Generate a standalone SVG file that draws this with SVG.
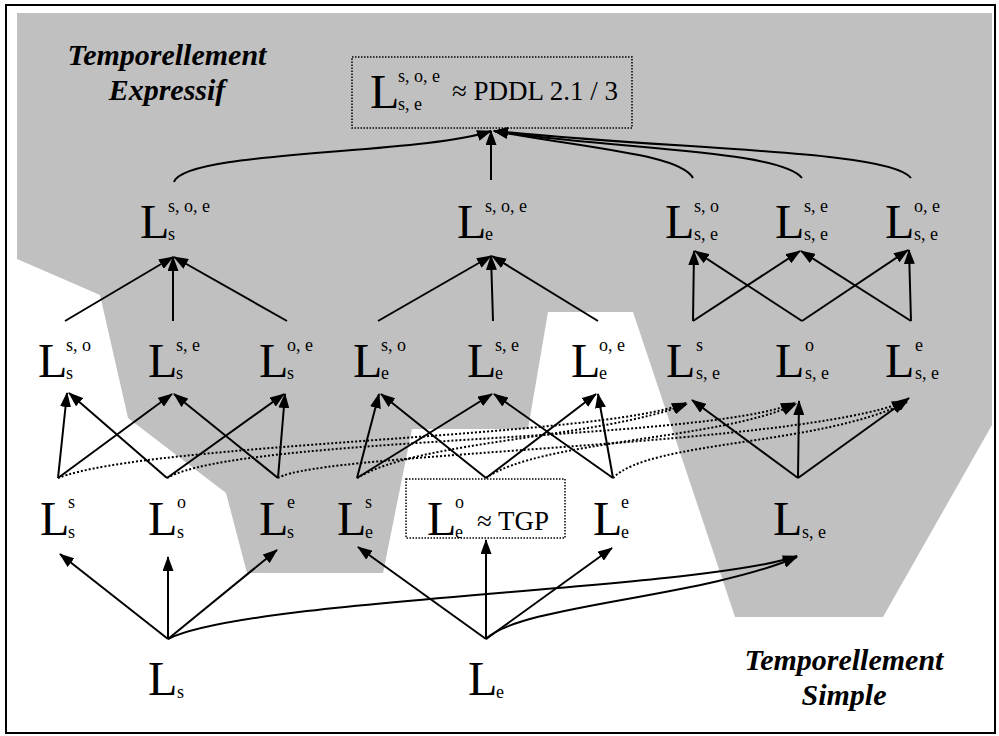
<svg xmlns="http://www.w3.org/2000/svg" width="999" height="736" viewBox="0 0 999 736">
<defs>
<marker id="ah" markerUnits="userSpaceOnUse" markerWidth="15" markerHeight="11" refX="14" refY="5.5" orient="auto">
<path d="M0,0 L15,5.5 L0,11 Z" fill="#000"/>
</marker>
<style>
text{font-family:"Liberation Serif",Tinos,"Times New Roman",Times,"Noto Serif","DejaVu Serif",FreeSerif,serif;fill:#000}
.L{font-size:48px}
.s{font-size:18px}
.t{font-size:27px}
.h{font-size:30px;font-weight:bold;font-style:italic;text-anchor:middle}
.c{fill:none;stroke:#000;stroke-width:2;marker-end:url(#ah)}
.d{fill:none;stroke:#000;stroke-width:2;stroke-dasharray:2,2;marker-end:url(#ah)}
.box{fill:none;stroke:#000;stroke-width:1.5;stroke-dasharray:1.5,1.5}
</style>
</defs>
<rect x="6" y="5" width="989" height="728" fill="#fff" stroke="#000" stroke-width="2"/>
<path id="zone" d="M17,13 L992,13 L992,425 L883,617 L735,617 L633,312 L548,312 L528,429 L412,429 L383,573 L247,573 L226,493 L128,418 L100,295 L17,259 Z" fill="#c0c0c0"/>
<text class="h" x="167" y="65">Temporellement</text>
<text class="h" x="167" y="100">Expressif</text>
<text class="h" x="844" y="670">Temporellement</text>
<text class="h" x="844" y="705">Simple</text>
<g id="connectors">
<path class="c" d="M174,182 C185,150 420,155 491,131"/>
<path class="c" d="M491,180 L491,131"/>
<path class="c" d="M693,178 C680,155 600,150 494,131"/>
<path class="c" d="M802,178 C780,150 620,150 494,131"/>
<path class="c" d="M911,178 C890,150 680,150 494,131"/>
<path class="c" d="M65,321 L173,257"/>
<path class="c" d="M173,321 L173,257"/>
<path class="c" d="M287,321 L174,257"/>
<path class="c" d="M378,321 L491,256"/>
<path class="c" d="M493,321 L491,256"/>
<path class="c" d="M598,321 L492,256"/>
<path class="c" d="M693,321 L694,251"/>
<path class="c" d="M693,321 L800,251"/>
<path class="c" d="M802,321 L695,251"/>
<path class="c" d="M802,321 L908,250"/>
<path class="c" d="M911,321 L801,251"/>
<path class="c" d="M911,321 L909,250"/>
<path class="c" d="M58,478 L67,393"/>
<path class="c" d="M58,478 L172,394"/>
<path class="c" d="M167,478 L69,393"/>
<path class="c" d="M167,478 L284,394"/>
<path class="c" d="M278,478 L174,394"/>
<path class="c" d="M278,478 L285,394"/>
<path class="c" d="M357,478 L379,394"/>
<path class="c" d="M357,478 L492,394"/>
<path class="c" d="M486,478 L381,394"/>
<path class="c" d="M486,478 L596,394"/>
<path class="c" d="M613,478 L494,394"/>
<path class="c" d="M613,478 L598,394"/>
<path class="c" d="M798,478 L692,400"/>
<path class="c" d="M798,478 L799,401"/>
<path class="c" d="M798,478 L909,398"/>
<path class="d" d="M58,478 C150,442 600,438 686,403"/>
<path class="d" d="M167,478 C240,436 700,442 795,403"/>
<path class="d" d="M278,478 C320,452 800,446 906,401"/>
<path class="d" d="M357,478 C420,440 600,438 687,404"/>
<path class="d" d="M486,478 C540,440 720,440 796,404"/>
<path class="d" d="M613,478 C650,440 820,446 907,402"/>
<path class="c" d="M168,639 L60,554"/>
<path class="c" d="M168,639 L168,557"/>
<path class="c" d="M168,639 L277,550"/>
<path class="c" d="M486,639 L358,547"/>
<path class="c" d="M486,639 L486,540"/>
<path class="c" d="M486,639 L612,548"/>
<path class="c" d="M168,639 C250,598 700,590 797,556"/>
<path class="c" d="M486,639 C520,605 700,598 797,557"/>
</g>
<g id="n-top">
<rect class="box" x="352" y="57" width="280" height="71"/>
<text class="L" x="370" y="108">L</text><text class="s" x="398" y="82">s, o, e</text><text class="s" x="398" y="110">s, e</text>
<text class="t" x="452" y="100">≈ PDDL 2.1 / 3</text>
</g>
<g id="n-s-soe"><text class="L" x="140" y="238">L</text><text class="s" x="168" y="212">s, o, e</text><text class="s" x="168" y="240">s</text></g>
<g id="n-e-soe"><text class="L" x="457" y="238">L</text><text class="s" x="485" y="212">s, o, e</text><text class="s" x="485" y="240">e</text></g>
<g id="n-se-so"><text class="L" x="665" y="238">L</text><text class="s" x="694" y="212">s, o</text><text class="s" x="694" y="240">s, e</text></g>
<g id="n-se-se"><text class="L" x="775" y="238">L</text><text class="s" x="804" y="212">s, e</text><text class="s" x="804" y="240">s, e</text></g>
<g id="n-se-oe"><text class="L" x="885" y="238">L</text><text class="s" x="914" y="212">o, e</text><text class="s" x="914" y="240">s, e</text></g>
<g id="n-s-so"><text class="L" x="38" y="377">L</text><text class="s" x="66" y="351">s, o</text><text class="s" x="66" y="379">s</text></g>
<g id="n-s-se"><text class="L" x="148" y="377">L</text><text class="s" x="176" y="351">s, e</text><text class="s" x="176" y="379">s</text></g>
<g id="n-s-oe"><text class="L" x="259" y="377">L</text><text class="s" x="287" y="351">o, e</text><text class="s" x="287" y="379">s</text></g>
<g id="n-e-so"><text class="L" x="353" y="377">L</text><text class="s" x="381" y="351">s, o</text><text class="s" x="381" y="379">e</text></g>
<g id="n-e-se"><text class="L" x="467" y="377">L</text><text class="s" x="495" y="351">s, e</text><text class="s" x="495" y="379">e</text></g>
<g id="n-e-oe"><text class="L" x="571" y="377">L</text><text class="s" x="599" y="351">o, e</text><text class="s" x="599" y="379">e</text></g>
<g id="n-se-s"><text class="L" x="666" y="377">L</text><text class="s" x="696" y="351">s</text><text class="s" x="696" y="379">s, e</text></g>
<g id="n-se-o"><text class="L" x="775" y="377">L</text><text class="s" x="805" y="351">o</text><text class="s" x="805" y="379">s, e</text></g>
<g id="n-se-e"><text class="L" x="885" y="377">L</text><text class="s" x="915" y="351">e</text><text class="s" x="915" y="379">s, e</text></g>
<g id="n-s-s"><text class="L" x="40" y="535">L</text><text class="s" x="68" y="508">s</text><text class="s" x="68" y="538">s</text></g>
<g id="n-s-o"><text class="L" x="148" y="535">L</text><text class="s" x="177" y="508">o</text><text class="s" x="177" y="538">s</text></g>
<g id="n-s-e"><text class="L" x="259" y="535">L</text><text class="s" x="287" y="508">e</text><text class="s" x="287" y="538">s</text></g>
<g id="n-e-s"><text class="L" x="337" y="535">L</text><text class="s" x="365" y="508">s</text><text class="s" x="365" y="538">e</text></g>
<g id="n-e-o">
<rect class="box" x="406" y="479" width="159" height="59"/>
<text class="L" x="427" y="535">L</text><text class="s" x="455" y="508">o</text><text class="s" x="455" y="538">e</text>
<text class="t" x="477" y="530" font-size="26">≈ TGP</text>
</g>
<g id="n-e-e"><text class="L" x="593" y="535">L</text><text class="s" x="621" y="508">e</text><text class="s" x="621" y="538">e</text></g>
<g id="n-se"><text class="L" x="773" y="535">L</text><text class="s" x="802" y="538">s, e</text></g>
<g id="n-s"><text class="L" x="148" y="695">L</text><text class="s" x="177" y="698">s</text></g>
<g id="n-e"><text class="L" x="468" y="695">L</text><text class="s" x="496" y="698">e</text></g>
</svg>
